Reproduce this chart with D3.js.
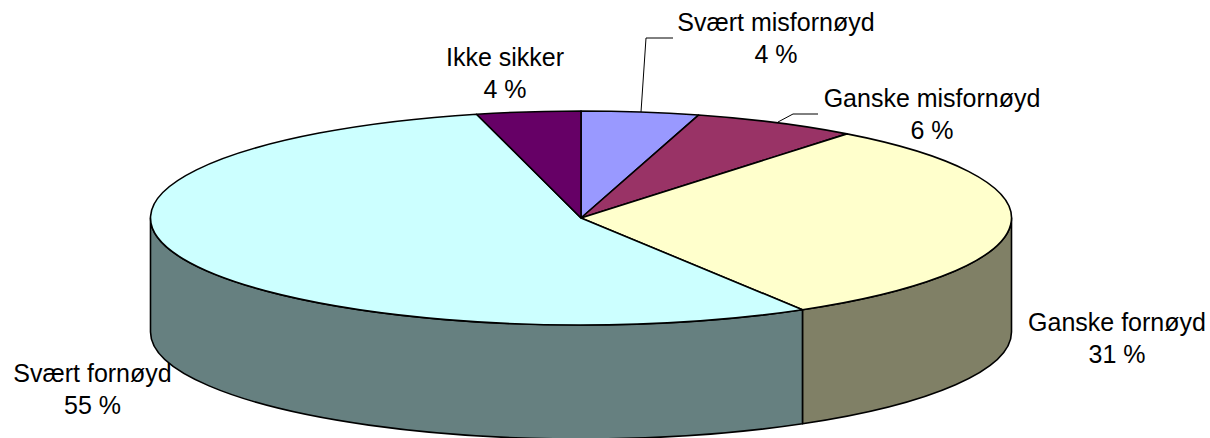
<!DOCTYPE html>
<html><head><meta charset="utf-8">
<script src="https://cdnjs.cloudflare.com/ajax/libs/d3/7.8.5/d3.min.js"></script>
<style>html,body{margin:0;padding:0;background:#fff}svg{display:block}text{font-family:"Liberation Sans",Arial,sans-serif;font-size:25px;fill:#000;text-anchor:middle}</style>
</head><body><svg id="c" width="1210" height="438"></svg>
<script>
const categories = ["Svært misfornøyd","Ganske misfornøyd","Ganske fornøyd","Svært fornøyd","Ikke sikker"];
const values = [4.4,6.2,30.8,54.7,3.9];
const topColors = ["#9999ff","#993366","#ffffcc","#ccffff","#660066"];
const sideColors = ["#4d4d80","#4d1a33","#808066","#668080","#330033"];
const labelAnchors = [[776,31],[932,107],[1117,331],[92.5,382],[505,66]];
const leaders = [[[673,38],[646,38],[641,112]],[[818,114],[793,114],[778,122]]];

const cx=581, cy=218, rx=430.5, ry=107, depth=114;
const svg=d3.select("#c");
const arcs=d3.pie().sort(null).value(d=>d)(values);
const px=a=>cx+rx*Math.sin(a), py=a=>cy-ry*Math.cos(a);

const lo=Math.PI/2, hi=3*Math.PI/2;
arcs.forEach((d,i)=>{
  const a0=Math.max(d.startAngle,lo), a1=Math.min(d.endAngle,hi);
  if(a1<=a0) return;
  const p=`M${px(a0)},${py(a0)}A${rx},${ry} 0 0 1 ${px(a1)},${py(a1)}L${px(a1)},${py(a1)+depth}A${rx},${ry} 0 0 0 ${px(a0)},${py(a0)+depth}Z`;
  svg.append("path").attr("d",p).attr("fill",sideColors[i]).attr("stroke","#000").attr("stroke-width",1.6).attr("stroke-linejoin","round");
});
arcs.forEach((d,i)=>{
  const large=d.endAngle-d.startAngle>Math.PI?1:0;
  const p=`M${cx},${cy}L${px(d.startAngle)},${py(d.startAngle)}A${rx},${ry} 0 ${large} 1 ${px(d.endAngle)},${py(d.endAngle)}Z`;
  svg.append("path").attr("d",p).attr("fill",topColors[i]).attr("stroke","#000").attr("stroke-width",1.6).attr("stroke-linejoin","round");
});
const line=d3.line();
leaders.forEach(l=>svg.append("path").attr("d",line(l)).attr("fill","none").attr("stroke","#000").attr("stroke-width",1));
categories.forEach((c,i)=>{
  const t=svg.append("text").attr("x",labelAnchors[i][0]).attr("y",labelAnchors[i][1]);
  t.append("tspan").attr("x",labelAnchors[i][0]).text(c);
  t.append("tspan").attr("x",labelAnchors[i][0]).attr("dy",32).text(d3.format(".0f")(values[i])+" %");
});
</script></body></html>
